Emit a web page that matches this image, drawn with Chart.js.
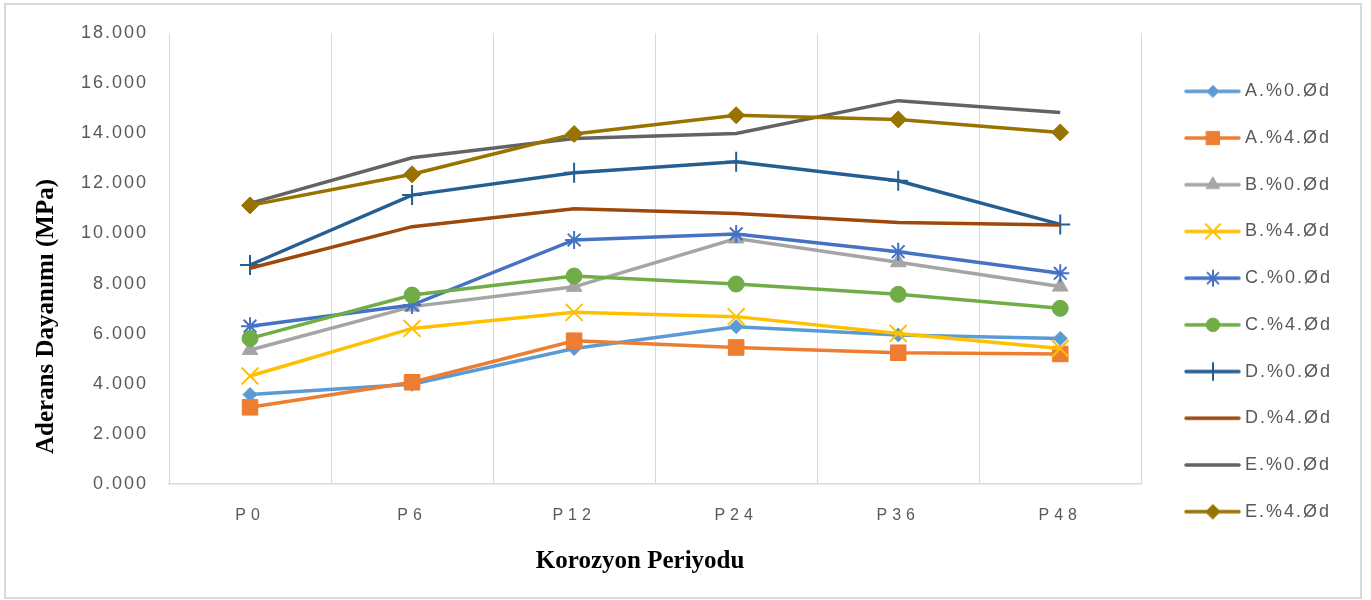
<!DOCTYPE html>
<html>
<head>
<meta charset="utf-8">
<script src="https://cdn.jsdelivr.net/npm/chart.js@4/dist/chart.umd.min.js"></script>
<style>
  html, body { margin: 0; padding: 0; background: #ffffff; }
  #wrap { width: 1371px; height: 600px; }
</style>
</head>
<body>
<div id="wrap"><canvas id="chart" width="1371" height="600"></canvas></div>
<script>
// Bond strength by corrosion period
const categories = ['P0', 'P6', 'P12', 'P24', 'P36', 'P48'];
const yTicks = [0, 2, 4, 6, 8, 10, 12, 14, 16, 18];
const xTitle = 'Korozyon Periyodu';
const yTitle = 'Aderans Dayanımı (MPa)';

const seriesNames = ['A.%0.Ød', 'A.%4.Ød', 'B.%0.Ød', 'B.%4.Ød', 'C.%0.Ød',
                     'C.%4.Ød', 'D.%0.Ød', 'D.%4.Ød', 'E.%0.Ød', 'E.%4.Ød'];

const a0 = [3.57, 3.98, 5.41, 6.28, 5.95, 5.81];
const a4 = [3.06, 4.06, 5.72, 5.45, 5.24, 5.19];
const b0 = [5.35, 7.08, 7.87, 9.80, 8.85, 7.88];
const b4 = [4.31, 6.21, 6.85, 6.68, 6.01, 5.41];
const c0 = [6.30, 7.14, 9.74, 9.98, 9.27, 8.41];
const c4 = [5.81, 7.54, 8.30, 7.98, 7.57, 7.01];
const d0 = [8.74, 11.53, 12.42, 12.86, 12.10, 10.36];
const d4 = [8.61, 10.27, 10.99, 10.80, 10.44, 10.34];
const e0 = [11.20, 13.02, 13.79, 13.99, 15.30, 14.83];
const e4 = [11.12, 12.36, 13.97, 14.72, 14.55, 14.03];

const seriesValues = [a0, a4, b0, b4, c0, c4, d0, d4, e0, e4];

// per-series look: colour, marker style, marker radius, marker stroke
const looks = [
  { color: '#5B9BD5', style: 'rectRot',  r: 7,    bw: 1 },
  { color: '#ED7D31', style: 'rect',     r: 11,   bw: 1 },
  { color: '#A5A5A5', style: 'triangle', r: 9,    bw: 1 },
  { color: '#FFC000', style: 'crossRot', r: 12,   bw: 2 },
  { color: '#4472C4', style: 'star',     r: 9,    bw: 2 },
  { color: '#70AD47', style: 'circle',   r: 8,    bw: 1 },
  { color: '#255E91', style: 'cross',    r: 10,   bw: 2 },
  { color: '#9E480E', style: false,      r: 0,    bw: 0 },
  { color: '#636363', style: false,      r: 0,    bw: 0 },
  { color: '#997300', style: 'rectRot',  r: 8.5,  bw: 1 }
];

const n = seriesValues.length;
const datasets = seriesValues.map((vals, i) => ({
  label: seriesNames[i],
  data: vals,
  borderColor: looks[i].color,
  backgroundColor: looks[i].color,
  borderWidth: 3.5,
  tension: 0,
  pointStyle: looks[i].style || 'circle',
  pointRadius: looks[i].r,
  pointHoverRadius: looks[i].r,
  pointBorderWidth: looks[i].bw,
  pointBackgroundColor: looks[i].color,
  pointBorderColor: looks[i].color,
  order: n - 1 - i
}));

// small line-with-marker icons for the legend
const ICON_W = 76, ICON_H = 26;
function makeIcon(look) {
  const cv = document.createElement('canvas');
  cv.width = ICON_W; cv.height = ICON_H;
  const g = cv.getContext('2d');
  g.strokeStyle = look.color;
  g.lineWidth = 3.5;
  g.lineCap = 'round';
  g.beginPath();
  g.moveTo(21, ICON_H / 2);
  g.lineTo(ICON_W - 2, ICON_H / 2);
  g.stroke();
  if (look.style && Chart.helpers && Chart.helpers.drawPoint) {
    g.fillStyle = look.color;
    g.strokeStyle = look.color;
    g.lineWidth = look.bw;
    Chart.helpers.drawPoint(g, { pointStyle: look.style, radius: look.r * 0.85, rotation: 0, borderWidth: look.bw }, 48, ICON_H / 2);
  }
  return cv;
}
const icons = looks.map(makeIcon);

const LEGEND_PAD = 28.7;

// letter spacing for the sans-serif texts
const spacingPlugin = {
  id: 'spacing',
  beforeUpdate(c) { c.ctx.letterSpacing = '2px'; },
  beforeLayout(c) { c.ctx.letterSpacing = '2px'; },
  afterLayout(c) {
    const sx = c.scales.x;
    if (sx && !sx.__spaced) {
      const orig = sx.drawLabels;
      sx.drawLabels = function (area) {
        const ctx = this.ctx;
        const prev = ctx.letterSpacing;
        ctx.letterSpacing = '5px';
        orig.call(this, area);
        ctx.letterSpacing = prev;
      };
      sx.__spaced = true;
    }
  },
  beforeDraw(c) { c.ctx.letterSpacing = '2px'; }
};

// white page with a light frame
const framePlugin = {
  id: 'frame',
  beforeDraw(c) {
    const ctx = c.ctx;
    ctx.save();
    ctx.fillStyle = '#ffffff';
    ctx.fillRect(0, 0, c.width, c.height);
    ctx.strokeStyle = '#d9d9d9';
    ctx.lineWidth = 2;
    ctx.strokeRect(5, 4, c.width - 15, c.height - 6);
    ctx.restore();
  }
};

// axis titles in bold serif
const titlesPlugin = {
  id: 'axisTitles',
  afterDraw(c) {
    const ctx = c.ctx;
    const ca = c.chartArea;
    ctx.save();
    ctx.letterSpacing = '0px';
    ctx.font = 'bold 25px "Liberation Serif", "Times New Roman", serif';
    ctx.fillStyle = '#000000';
    ctx.textAlign = 'center';
    ctx.textBaseline = 'middle';
    ctx.fillText(xTitle, (ca.left + ca.right) / 2 - 15, ca.bottom + 78);
    ctx.translate(ca.left - 122, (ca.top + ca.bottom) / 2 + 58);
    ctx.rotate(-Math.PI / 2);
    ctx.fillText(yTitle, 0, 0);
    ctx.restore();
  }
};

const tickFont = { family: '"Liberation Sans", Arial, sans-serif', size: 18 };

new Chart(document.getElementById('chart'), {
  type: 'line',
  data: { labels: categories, datasets: datasets },
  options: {
    responsive: false,
    animation: false,
    devicePixelRatio: 1,
    events: [],
    layout: { padding: { top: 33, right: 29, bottom: 30, left: 0 } },
    plugins: {
      tooltip: { enabled: false },
      title: { display: false },
      legend: {
        position: 'right',
        align: 'center',
        labels: {
          usePointStyle: true,
          pointStyleWidth: 66,
          padding: LEGEND_PAD,
          color: '#595959',
          font: { family: '"Liberation Sans", Arial, sans-serif', size: 18 },
          generateLabels(chart) {
            return chart.data.datasets.map((ds, i) => ({
              text: ds.label,
              pointStyle: icons[i],
              fillStyle: ds.borderColor,
              strokeStyle: ds.borderColor,
              lineWidth: 0,
              hidden: false,
              datasetIndex: i,
              fontColor: '#595959'
            }));
          }
        }
      }
    },
    scales: {
      x: {
        type: 'category',
        offset: true,
        grid: { display: true, offset: true, color: '#d9d9d9', lineWidth: 1, drawTicks: false },
        border: { display: true, color: '#d9d9d9', width: 1.5 },
        ticks: { color: '#595959', font: { family: '"Liberation Sans", Arial, sans-serif', size: 16 }, padding: 22, maxRotation: 0, autoSkip: false },
        afterFit(scale) { scale.height = 86; }
      },
      y: {
        min: 0,
        max: 18,
        grid: { display: false, drawTicks: false },
        border: { display: false },
        afterBuildTicks(scale) { scale.ticks = yTicks.map(v => ({ value: v })); },
        ticks: {
          color: '#595959',
          font: tickFont,
          padding: 21,
          callback: (v) => Number(v).toFixed(3)
        },
        afterFit(scale) { scale.width = 169; }
      }
    }
  },
  plugins: [spacingPlugin, framePlugin, titlesPlugin]
});
</script>
</body>
</html>
